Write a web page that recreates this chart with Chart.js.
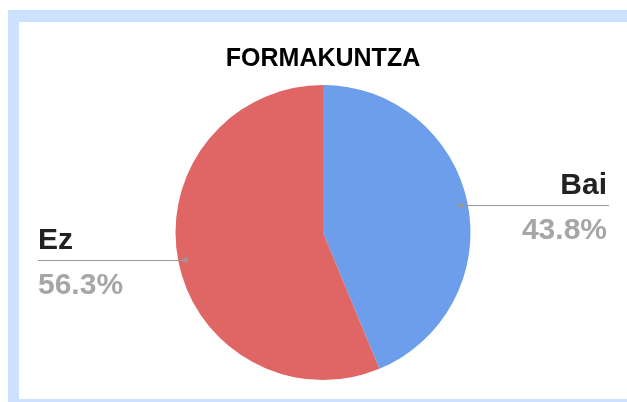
<!DOCTYPE html>
<html>
<head>
<meta charset="utf-8">
<script src="https://cdn.jsdelivr.net/npm/chart.js@4.4.0/dist/chart.umd.min.js"></script>
<style>
  html, body { margin: 0; padding: 0; background: #fff; overflow: hidden; }
  #frame { position: absolute; left: 8px; top: 10px; width: 700px; height: 392px; background: #cce0ff; }
  #panel { position: absolute; left: 19px; top: 22px; width: 608px; height: 377px; background: #fff; }
</style>
</head>
<body>
<div id="frame"></div>
<div id="panel"><canvas id="pieChart" width="608" height="377"></canvas></div>
<script>
// Chart data
const chartTitle = 'FORMAKUNTZA';
const categories = ['Bai', 'Ez'];
const percentages = [43.8, 56.3];
const sliceColors = ['#6d9eeb', '#e06666'];

// Draws the outside labels with leader lines
const sliceLabels = {
  id: 'sliceLabels',
  afterDraw(chart) {
    const ctx = chart.ctx;
    const arcs = chart.getDatasetMeta(0).data;
    arcs.forEach((arc, i) => {
      const mid = (arc.startAngle + arc.endAngle) / 2;
      const r = arc.outerRadius * 0.95;
      const dx = arc.x + Math.cos(mid) * r;
      const dy = arc.y + Math.sin(mid) * r;
      const right = Math.cos(mid) >= 0;
      const lineEnd = right ? chart.width - 18 : 19;

      ctx.save();
      ctx.strokeStyle = '#999999';
      ctx.lineWidth = 1;
      ctx.beginPath();
      ctx.moveTo(dx, Math.round(dy) + 0.5);
      ctx.lineTo(lineEnd, Math.round(dy) + 0.5);
      ctx.stroke();

      ctx.fillStyle = '#999999';
      ctx.beginPath();
      ctx.arc(dx, dy, 2.5, 0, Math.PI * 2);
      ctx.fill();

      ctx.font = 'bold 30px "Liberation Sans", Arial, sans-serif';
      ctx.textAlign = right ? 'right' : 'left';
      ctx.textBaseline = 'alphabetic';
      const tx = right ? lineEnd - 2 : lineEnd;
      ctx.fillStyle = '#222222';
      ctx.fillText(categories[i], tx, dy - 11);
      ctx.fillStyle = '#a6a6a6';
      ctx.fillText(percentages[i].toFixed(1) + '%', tx, dy + 34);
      ctx.restore();
    });
  }
};

new Chart(document.getElementById('pieChart').getContext('2d'), {
  type: 'pie',
  data: {
    labels: categories,
    datasets: [{
      data: percentages,
      backgroundColor: sliceColors,
      borderWidth: 0
    }]
  },
  options: {
    responsive: false,
    animation: false,
    layout: { padding: { bottom: 19 } },
    plugins: {
      legend: { display: false },
      tooltip: { enabled: false },
      title: {
        display: true,
        text: chartTitle,
        color: '#000000',
        font: { family: '"Liberation Sans", Arial, sans-serif', size: 25, weight: 'bold', lineHeight: 1.2 },
        padding: { top: 22, bottom: 11 }
      }
    }
  },
  plugins: [sliceLabels]
});
</script>
</body>
</html>
